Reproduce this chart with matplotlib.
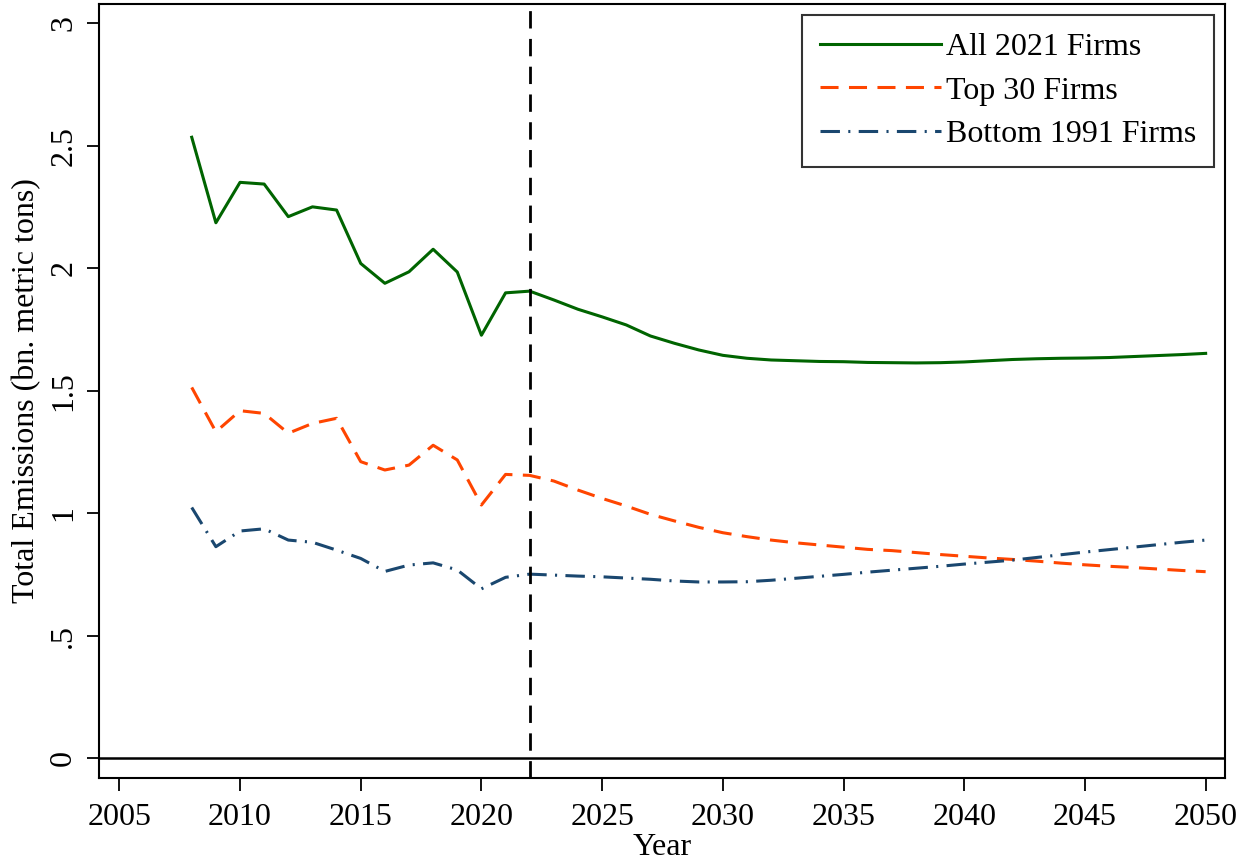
import matplotlib
matplotlib.use("Agg")
import matplotlib.pyplot as plt

years = list(range(2008, 2051))
all_firms = [2.535, 2.186, 2.351, 2.344, 2.211, 2.251, 2.238, 2.020, 1.939, 1.986,
             2.078, 1.985, 1.727, 1.900, 1.907, 1.871, 1.833, 1.802, 1.769, 1.724,
             1.694, 1.667, 1.645, 1.633, 1.626, 1.623, 1.620, 1.619, 1.616, 1.615,
             1.614, 1.615, 1.618, 1.623, 1.628, 1.631, 1.633, 1.634, 1.636, 1.640,
             1.644, 1.648, 1.653]
top30 = [1.514, 1.333, 1.419, 1.408, 1.327, 1.367, 1.388, 1.211, 1.177, 1.197,
         1.278, 1.218, 1.034, 1.159, 1.155, 1.132, 1.095, 1.061, 1.030, 0.996,
         0.969, 0.943, 0.921, 0.905, 0.891, 0.880, 0.871, 0.862, 0.853, 0.848,
         0.840, 0.832, 0.825, 0.818, 0.812, 0.805, 0.797, 0.790, 0.784, 0.779,
         0.773, 0.767, 0.762]
bottom1991 = [1.024, 0.864, 0.928, 0.937, 0.891, 0.882, 0.850, 0.816, 0.763, 0.789,
              0.798, 0.769, 0.692, 0.739, 0.752, 0.748, 0.744, 0.741, 0.736, 0.731,
              0.724, 0.720, 0.720, 0.721, 0.727, 0.735, 0.743, 0.751, 0.760, 0.768,
              0.776, 0.784, 0.793, 0.801, 0.809, 0.820, 0.831, 0.842, 0.852, 0.862,
              0.872, 0.882, 0.891]
series_labels = ["All 2021 Firms", "Top 30 Firms", "Bottom 1991 Firms"]
xticks = list(range(2005, 2051, 5))
yticks = [0, 0.5, 1, 1.5, 2, 2.5, 3]
ytick_labels = ["0", ".5", "1", "1.5", "2", "2.5", "3"]
cutoff_year = 2022

plt.rcParams['font.family'] = ['Liberation Serif', 'DejaVu Serif']
plt.rcParams['lines.scale_dashes'] = False

fig = plt.figure(figsize=(12.52, 8.65), dpi=100)
ax = fig.add_axes([0.0791, 0.1006, 0.8993, 0.8948])

fs = 23
lw = 2.2
ax.plot(years, all_firms, color='#006400', lw=lw, label=series_labels[0])
ax.plot(years, top30, color='#FF4500', lw=lw, dashes=(13, 7.5), label=series_labels[1])
ax.plot(years, bottom1991, color='#1A476F', lw=lw, dashes=(14, 6, 1.5, 6), label=series_labels[2])

ax.axhline(0, color='black', lw=1.8)
ax.axvline(cutoff_year, color='black', lw=2.0, dashes=(12.5, 7.5))

ax.set_xlim(2004.16, 2050.8)
ax.set_ylim(-0.08, 3.079)
ax.set_xticks(xticks)
ax.set_yticks(yticks)
ax.set_yticklabels(ytick_labels, rotation=90, va='center')
ax.tick_params(axis='both', direction='out', length=9, width=1.3, labelsize=fs)
ax.tick_params(axis='x', pad=9)
ax.tick_params(axis='y', pad=6)
for s in ax.spines.values():
    s.set_linewidth(1.5)

ax.set_xlabel("Year", fontsize=fs, labelpad=1)
ax.set_ylabel("Total Emissions (bn. metric tons)", fontsize=fs, labelpad=6)

leg = ax.legend(loc='upper right', fontsize=fs, frameon=True, fancybox=False,
                edgecolor='black', handlelength=3.8, handletextpad=0.15,
                borderpad=0.55, labelspacing=0.45, borderaxespad=0,
                bbox_to_anchor=(0.990, 0.9858))
leg.get_frame().set_linewidth(1.5)

fig.savefig("out.png", dpi=100)
